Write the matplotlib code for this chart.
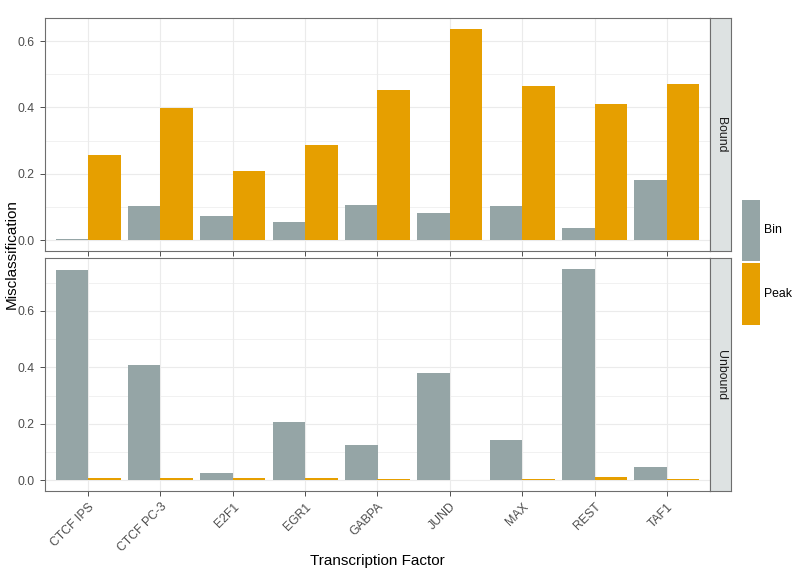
import matplotlib
matplotlib.use("Agg")
import matplotlib.pyplot as plt
import numpy as np
from matplotlib.patches import Rectangle
from matplotlib.ticker import MultipleLocator

plt.rcParams['font.family'] = ['Liberation Sans', 'DejaVu Sans']

factors = ["CTCF IPS", "CTCF PC-3", "E2F1", "EGR1", "GABPA", "JUND", "MAX", "REST", "TAF1"]
bound_bin = [0.004, 0.103, 0.072, 0.054, 0.105, 0.082, 0.102, 0.038, 0.180]
bound_peak = [0.258, 0.399, 0.207, 0.287, 0.453, 0.638, 0.464, 0.412, 0.471]
unbound_bin = [0.745, 0.410, 0.026, 0.206, 0.125, 0.382, 0.143, 0.749, 0.048]
unbound_peak = [0.008, 0.008, 0.009, 0.007, 0.004, 0.002, 0.004, 0.011, 0.004]
facets = ["Bound", "Unbound"]
methods = ["Bin", "Peak"]
colors = {"Bin": "#95A5A6", "Peak": "#E69F00"}

W, H = 796, 575
fig = plt.figure(figsize=(W / 100, H / 100), dpi=100)

def fx(px):
    return px / W

def fy(py):
    return 1 - py / H

left, right = 44.7, 710.3
panels = [(18.0, 250.7), (258.3, 491.0)]
data = [(bound_bin, bound_peak), (unbound_bin, unbound_peak)]
grid_c = "#EBEBEB"
border_c = "#6E6E6E"
tick_c = "#333333"
x = np.arange(1, len(factors) + 1)
bw = 0.45

for i, ((top, bot), (b, p)) in enumerate(zip(panels, data)):
    ax = fig.add_axes([fx(left), fy(bot), fx(right - left), fy(top) - fy(bot)])
    ax.bar(x - bw / 2, b, width=bw, color=colors["Bin"], zorder=3)
    ax.bar(x + bw / 2, p, width=bw, color=colors["Peak"], zorder=3)
    ymax = max(max(b), max(p))
    pad = ymax * 0.05
    ax.set_ylim(-pad, ymax + pad)
    ax.set_xlim(0.4, len(factors) + 0.6)
    ax.yaxis.set_major_locator(MultipleLocator(0.2))
    ax.yaxis.set_minor_locator(MultipleLocator(0.1))
    ax.set_xticks(x)
    ax.grid(True, which='major', color=grid_c, lw=0.8, zorder=0)
    ax.grid(True, which='minor', axis='y', color=grid_c, lw=0.5, zorder=0)
    ax.set_axisbelow(True)
    ax.yaxis.set_major_formatter(plt.FuncFormatter(lambda v, pos: f"{v:.1f}"))
    ax.tick_params(axis='both', which='major', length=3.5, width=0.6, color=tick_c,
                   labelcolor="#4D4D4D", labelsize=8.8)
    ax.tick_params(axis='y', which='minor', length=0)
    for s in ax.spines.values():
        s.set_color(border_c)
        s.set_linewidth(0.8)
    if i == 0:
        ax.tick_params(axis='x', labelbottom=False)
    else:
        ax.set_xticklabels(factors, rotation=45, ha='right', va='top', rotation_mode='anchor')
    # strip
    sx = fig.add_axes([fx(right), fy(bot), fx(21.0), fy(top) - fy(bot)])
    sx.set_facecolor("#DDE2E2")
    sx.set_xticks([])
    sx.set_yticks([])
    for s in sx.spines.values():
        s.set_color(border_c)
        s.set_linewidth(0.8)
    sx.text(0.5, 0.5, facets[i], rotation=-90, ha='center', va='center',
            fontsize=8.8, color="#1A1A1A", transform=sx.transAxes)

fig.text(fx(12), fy((18 + 491) / 2), "Misclassification", rotation=90,
         ha='center', va='center', fontsize=11, color="black")
fig.text(fx((left + right) / 2), fy(561), "Transcription Factor",
         ha='center', va='center', fontsize=11, color="black")

# legend
for (y0, y1), m in zip([(200, 260.5), (262.5, 324.7)], methods):
    fig.patches.append(Rectangle((fx(742.3), fy(y1)), fx(760 - 742.3), fy(y0) - fy(y1),
                                 transform=fig.transFigure, facecolor=colors[m], edgecolor='none'))
    fig.text(fx(764), fy((y0 + y1) / 2), m, ha='left', va='center', fontsize=8.8, color="black")

fig.savefig("out.png", dpi=100)
